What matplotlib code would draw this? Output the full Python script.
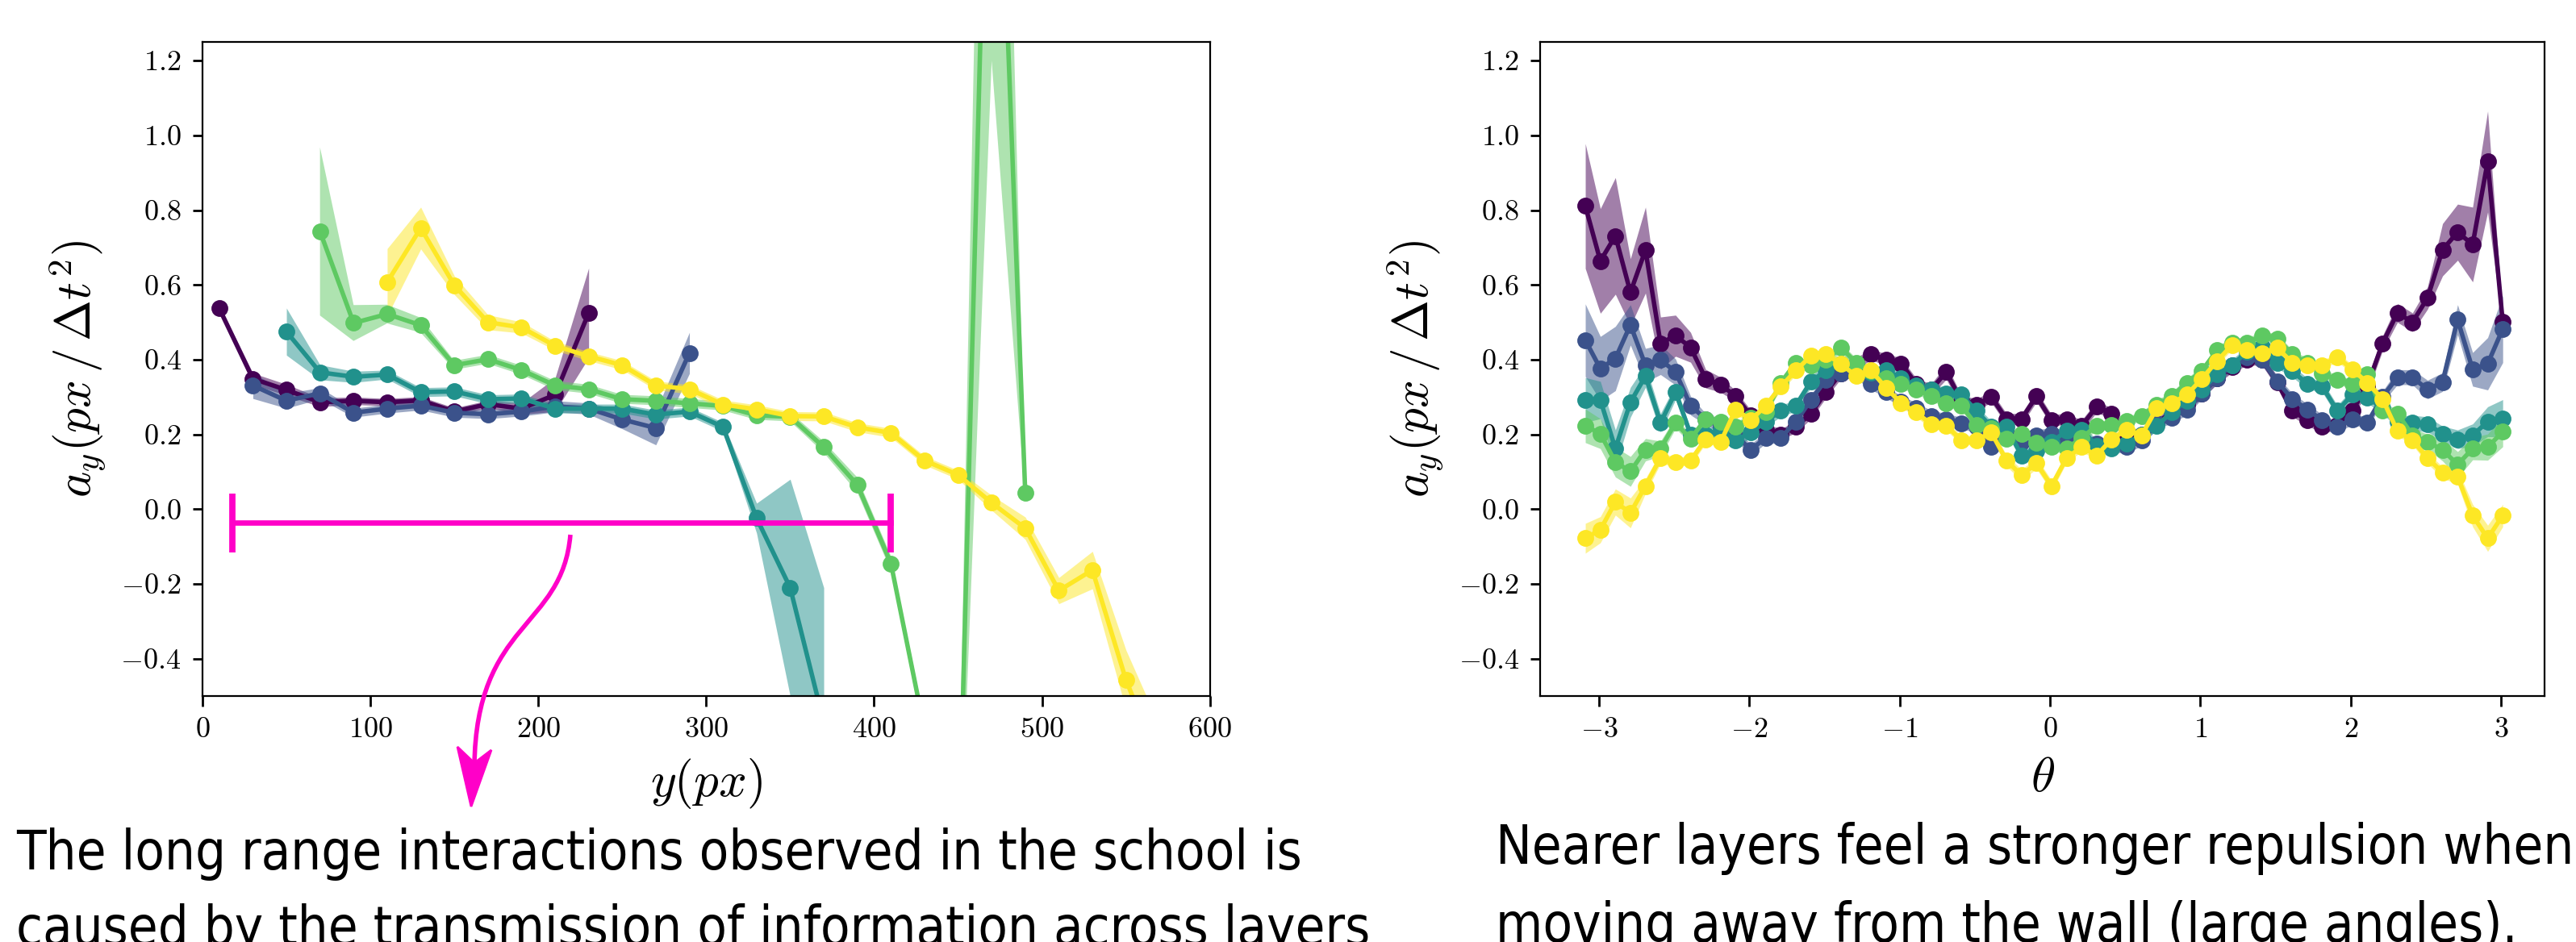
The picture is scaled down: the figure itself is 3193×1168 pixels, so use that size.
import numpy as np
import matplotlib
matplotlib.use("Agg")
import matplotlib.pyplot as plt
from matplotlib.path import Path
from matplotlib.patches import PathPatch, Polygon

plt.rcParams['mathtext.fontset'] = 'cm'
plt.rcParams['font.family'] = 'serif'
plt.rcParams['font.serif'] = ['cmr10']
plt.rcParams['axes.formatter.use_mathtext'] = True

# viridis, one colour per layer
colors = ['#440154', '#3b528b', '#21918c', '#5ec962', '#fde725']
MAGENTA = '#ff00c8'

# --- left panel: a_y vs y(px) ---
y_purple = [10, 30, 50, 70, 90, 110, 130, 150, 170, 190, 210, 230]
a_purple = [0.537, 0.349, 0.319, 0.286, 0.290, 0.286, 0.291, 0.261, 0.281, 0.269, 0.306, 0.525]
e_purple = [0.01, 0.015, 0.015, 0.012, 0.01, 0.01, 0.01, 0.01, 0.01, 0.015, 0.045, 0.12]

y_blue = [30, 50, 70, 90, 110, 130, 150, 170, 190, 210, 230, 250, 270, 290]
a_blue = [0.331, 0.290, 0.310, 0.258, 0.269, 0.277, 0.258, 0.254, 0.261, 0.275, 0.269, 0.240, 0.217, 0.418]
e_blue = [0.035, 0.02, 0.015, 0.012, 0.012, 0.012, 0.012, 0.012, 0.012, 0.015, 0.015, 0.025, 0.045, 0.055]

y_teal = [50, 70, 90, 110, 130, 150, 170, 190, 210, 230, 250, 270, 290, 310, 330, 350, 370]
a_teal = [0.475, 0.366, 0.354, 0.360, 0.313, 0.315, 0.294, 0.296, 0.269, 0.269, 0.269, 0.253, 0.261,
          0.220, -0.024, -0.210, -0.570]
e_teal = [0.063, 0.02, 0.015, 0.012, 0.012, 0.012, 0.012, 0.012, 0.012, 0.012, 0.012, 0.012, 0.012,
          0.012, 0.04, 0.29, 0.36]

y_green = [70, 90, 110, 130, 150, 170, 190, 210, 230, 250, 270, 290, 310, 330, 350, 370, 390,
           410, 430, 450, 470, 490]
a_green = [0.743, 0.498, 0.522, 0.492, 0.385, 0.401, 0.372, 0.331, 0.321, 0.294, 0.290, 0.283,
           0.276, 0.251, 0.247, 0.166, 0.065, -0.145, -0.59, -1.0, 2.4, 0.043]
e_green = [0.225, 0.048, 0.025, 0.02, 0.012, 0.012, 0.012, 0.012, 0.012, 0.012, 0.012, 0.012,
           0.012, 0.012, 0.012, 0.015, 0.02, 0.02, 0.025, 0.1, 1.2, 0.02]

y_yellow = [110, 130, 150, 170, 190, 210, 230, 250, 270, 290, 310, 330, 350, 370, 390, 410, 430,
            450, 470, 490, 510, 530, 550, 570]
a_yellow = [0.607, 0.752, 0.599, 0.500, 0.486, 0.437, 0.409, 0.385, 0.331, 0.321, 0.280, 0.267,
            0.249, 0.248, 0.219, 0.204, 0.130, 0.092, 0.017, -0.051, -0.218, -0.163, -0.457, -0.68]
e_yellow = [0.09, 0.056, 0.025, 0.02, 0.015, 0.012, 0.012, 0.012, 0.012, 0.012, 0.012, 0.012,
            0.012, 0.012, 0.012, 0.012, 0.012, 0.012, 0.02, 0.03, 0.035, 0.05, 0.08, 0.1]

# --- right panel: a_y vs theta ---
theta = [-3.09, -2.99, -2.89, -2.79, -2.69, -2.59, -2.49, -2.39, -2.29, -2.19, -2.09, -1.99,
         -1.89, -1.79, -1.69, -1.59, -1.49, -1.39, -1.29, -1.19, -1.09, -0.99, -0.89, -0.79,
         -0.69, -0.59, -0.49, -0.39, -0.29, -0.19, -0.09, 0.01, 0.11, 0.21, 0.31, 0.41,
         0.51, 0.61, 0.71, 0.81, 0.91, 1.01, 1.11, 1.21, 1.31, 1.41, 1.51, 1.61,
         1.71, 1.81, 1.91, 2.01, 2.11, 2.21, 2.31, 2.41, 2.51, 2.61, 2.71, 2.81,
         2.91, 3.01]

t_purple = [0.811, 0.664, 0.731, 0.580, 0.693, 0.444, 0.464, 0.433, 0.349, 0.333, 0.302, 0.250,
            0.213, 0.200, 0.220, 0.256, 0.313, 0.364, 0.390, 0.414, 0.400, 0.390, 0.335, 0.320,
            0.367, 0.290, 0.280, 0.300, 0.241, 0.241, 0.302, 0.238, 0.241, 0.223, 0.274, 0.256,
            0.200, 0.200, 0.230, 0.260, 0.280, 0.310, 0.350, 0.380, 0.400, 0.400, 0.340, 0.263,
            0.238, 0.220, 0.225, 0.263, 0.330, 0.443, 0.525, 0.500, 0.565, 0.694, 0.741, 0.708,
            0.930, 0.501]
s_purple = [0.167, 0.14, 0.156, 0.09, 0.115, 0.07, 0.055, 0.04, 0.025, 0.02, 0.015, 0.015,
            0.015, 0.015, 0.015, 0.015, 0.015, 0.015, 0.015, 0.015, 0.015, 0.015, 0.015, 0.015,
            0.02, 0.015, 0.015, 0.015, 0.015, 0.015, 0.015, 0.015, 0.015, 0.015, 0.015, 0.015,
            0.015, 0.015, 0.015, 0.015, 0.015, 0.015, 0.015, 0.015, 0.015, 0.015, 0.015, 0.015,
            0.015, 0.015, 0.015, 0.015, 0.02, 0.02, 0.025, 0.025, 0.03, 0.07, 0.075, 0.10,
            0.135, 0.015]

t_blue = [0.452, 0.376, 0.403, 0.493, 0.385, 0.400, 0.367, 0.277, 0.241, 0.220, 0.198, 0.159,
          0.191, 0.191, 0.234, 0.292, 0.346, 0.364, 0.364, 0.335, 0.313, 0.288, 0.270, 0.249,
          0.241, 0.230, 0.220, 0.166, 0.205, 0.180, 0.198, 0.202, 0.184, 0.170, 0.175, 0.166,
          0.166, 0.184, 0.230, 0.245, 0.267, 0.310, 0.350, 0.385, 0.407, 0.400, 0.342, 0.295,
          0.267, 0.238, 0.220, 0.241, 0.231, 0.300, 0.353, 0.353, 0.320, 0.340, 0.507, 0.374,
          0.389, 0.482]
s_blue = [0.097, 0.086, 0.086, 0.054, 0.045, 0.04, 0.035, 0.025, 0.015, 0.015, 0.015, 0.015,
          0.015, 0.015, 0.015, 0.015, 0.015, 0.015, 0.015, 0.015, 0.015, 0.015, 0.015, 0.015,
          0.015, 0.015, 0.015, 0.015, 0.015, 0.015, 0.015, 0.015, 0.015, 0.015, 0.015, 0.015,
          0.015, 0.015, 0.015, 0.015, 0.015, 0.015, 0.015, 0.015, 0.015, 0.015, 0.015, 0.015,
          0.015, 0.015, 0.015, 0.015, 0.015, 0.015, 0.02, 0.02, 0.025, 0.025, 0.04, 0.045,
          0.07, 0.09]

t_teal = [0.292, 0.292, 0.162, 0.286, 0.356, 0.231, 0.313, 0.200, 0.200, 0.210, 0.184, 0.205,
          0.234, 0.263, 0.277, 0.341, 0.371, 0.389, 0.375, 0.365, 0.371, 0.350, 0.330, 0.320,
          0.310, 0.307, 0.263, 0.220, 0.220, 0.144, 0.155, 0.180, 0.209, 0.213, 0.170, 0.162,
          0.175, 0.200, 0.223, 0.260, 0.290, 0.320, 0.360, 0.385, 0.421, 0.435, 0.392, 0.369,
          0.336, 0.328, 0.263, 0.306, 0.299, 0.270, 0.234, 0.231, 0.227, 0.202, 0.187, 0.198,
          0.234, 0.243]
s_teal = [0.06, 0.05, 0.05, 0.04, 0.03, 0.025, 0.02, 0.015, 0.015, 0.015, 0.015, 0.015,
          0.015, 0.015, 0.015, 0.015, 0.015, 0.015, 0.015, 0.015, 0.015, 0.015, 0.015, 0.015,
          0.015, 0.015, 0.015, 0.015, 0.015, 0.015, 0.015, 0.015, 0.015, 0.015, 0.015, 0.015,
          0.015, 0.015, 0.015, 0.015, 0.015, 0.015, 0.015, 0.015, 0.015, 0.015, 0.015, 0.015,
          0.015, 0.015, 0.015, 0.015, 0.015, 0.015, 0.015, 0.02, 0.02, 0.02, 0.025, 0.03,
          0.04, 0.05]

t_green = [0.223, 0.202, 0.126, 0.101, 0.159, 0.162, 0.231, 0.188, 0.241, 0.234, 0.220, 0.245,
           0.260, 0.338, 0.392, 0.385, 0.400, 0.432, 0.392, 0.370, 0.350, 0.335, 0.320, 0.302,
           0.284, 0.277, 0.225, 0.216, 0.188, 0.202, 0.177, 0.166, 0.162, 0.191, 0.223, 0.225,
           0.235, 0.249, 0.280, 0.302, 0.338, 0.370, 0.425, 0.446, 0.446, 0.464, 0.457, 0.414,
           0.392, 0.364, 0.346, 0.335, 0.360, 0.263, 0.256, 0.198, 0.180, 0.159, 0.119, 0.162,
           0.166, 0.207]
s_green = [0.045, 0.04, 0.04, 0.04, 0.03, 0.02, 0.015, 0.012, 0.012, 0.012, 0.012, 0.012,
           0.012, 0.012, 0.012, 0.012, 0.012, 0.012, 0.012, 0.012, 0.012, 0.012, 0.012, 0.012,
           0.012, 0.012, 0.012, 0.012, 0.012, 0.012, 0.012, 0.012, 0.012, 0.012, 0.012, 0.012,
           0.012, 0.012, 0.012, 0.012, 0.012, 0.012, 0.012, 0.012, 0.012, 0.012, 0.012, 0.012,
           0.012, 0.012, 0.012, 0.012, 0.012, 0.015, 0.015, 0.02, 0.02, 0.03, 0.035, 0.03,
           0.035, 0.04]

t_yellow = [-0.078, -0.055, 0.019, -0.010, 0.062, 0.137, 0.126, 0.130, 0.187, 0.180, 0.267, 0.238,
            0.277, 0.328, 0.371, 0.410, 0.414, 0.389, 0.356, 0.371, 0.324, 0.284, 0.259, 0.227,
            0.223, 0.185, 0.185, 0.205, 0.130, 0.091, 0.123, 0.062, 0.137, 0.166, 0.144, 0.187,
            0.213, 0.198, 0.270, 0.284, 0.306, 0.349, 0.396, 0.439, 0.425, 0.417, 0.432, 0.392,
            0.385, 0.385, 0.407, 0.374, 0.338, 0.295, 0.209, 0.184, 0.137, 0.098, 0.087, -0.017,
            -0.078, -0.017]
s_yellow = [0.04, 0.035, 0.035, 0.04, 0.02, 0.015, 0.012, 0.012, 0.012, 0.012, 0.012, 0.012,
            0.012, 0.012, 0.012, 0.012, 0.012, 0.012, 0.012, 0.012, 0.012, 0.012, 0.012, 0.012,
            0.012, 0.012, 0.012, 0.012, 0.015, 0.015, 0.015, 0.015, 0.012, 0.012, 0.012, 0.012,
            0.012, 0.012, 0.012, 0.012, 0.012, 0.012, 0.012, 0.012, 0.012, 0.012, 0.012, 0.012,
            0.012, 0.012, 0.012, 0.012, 0.012, 0.012, 0.012, 0.012, 0.015, 0.015, 0.02, 0.03,
            0.035, 0.03]

left_series = [(y_purple, a_purple, e_purple), (y_blue, a_blue, e_blue), (y_teal, a_teal, e_teal),
               (y_green, a_green, e_green), (y_yellow, a_yellow, e_yellow)]
right_series = [(t_purple, s_purple), (t_blue, s_blue), (t_teal, s_teal),
                (t_green, s_green), (t_yellow, s_yellow)]

captions_left = ["The long range interactions observed in the school is",
                 "caused by the transmission of information across layers"]
captions_right = ["Nearer layers feel a stronger repulsion when",
                  "moving away from the wall (large angles)."]

# magenta range marker (data coords of left panel)
BAR_X0, BAR_X1, BAR_Y = 18, 410, -0.037
CAP_LO, CAP_HI = -0.115, 0.042

W, H, DPI = 3193, 1168, 200
fig = plt.figure(figsize=(W / DPI, H / DPI), dpi=DPI)
ax1 = fig.add_axes([0.0786, 0.2611, 0.3911, 0.6944])
ax2 = fig.add_axes([0.5979, 0.2611, 0.3900, 0.6944])


def band_line(ax, xs, ys, es, c):
    xs, ys, es = np.asarray(xs), np.asarray(ys), np.asarray(es)
    ax.fill_between(xs, ys - es, ys + es, color=c, alpha=0.5, lw=0)
    ax.plot(xs, ys, '-o', color=c, lw=2, ms=6.5)


for (xs, ys, es), c in zip(left_series, colors):
    band_line(ax1, xs, ys, es, c)
for (ys, es), c in zip(right_series, colors):
    band_line(ax2, theta, ys, es, c)

ax1.set_xlim(0, 600)
ax2.set_xlim(-3.39, 3.29)
ax1.set_xticks([0, 100, 200, 300, 400, 500, 600])
ax2.set_xticks([-3, -2, -1, 0, 1, 2, 3])
for ax in (ax1, ax2):
    ax.set_ylim(-0.5, 1.25)
    ax.set_yticks([-0.4, -0.2, 0.0, 0.2, 0.4, 0.6, 0.8, 1.0, 1.2])
    ax.tick_params(labelsize=13, length=4.5, width=1, pad=5)
    ax.set_ylabel(r'$a_y(px\,/\,\Delta t^2)$', fontsize=22, labelpad=6)
ax1.set_xlabel(r'$y(px)$', fontsize=22, labelpad=6)
ax2.set_xlabel(r'$\theta$', fontsize=22, labelpad=6)

# range bracket
ax1.plot([BAR_X0, BAR_X1], [BAR_Y, BAR_Y], color=MAGENTA, lw=2.4)
ax1.vlines([BAR_X0, BAR_X1], CAP_LO, CAP_HI, color=MAGENTA, lw=2.8)


def fig_pt(x, y):
    # figure pixels (origin top-left) -> figure fraction
    return (x / W, 1 - y / H)


# curvy arrow shaft + concave head
shaft_px = [(707, 663), (697, 780), (590, 770), (588, 950)]
shaft = Path([fig_pt(*p) for p in shaft_px],
             [Path.MOVETO, Path.CURVE4, Path.CURVE4, Path.CURVE4])
fig.patches.append(PathPatch(shaft, transform=fig.transFigure, fill=False,
                             edgecolor=MAGENTA, lw=2))
head_px = [(584, 1000), (567, 926), (588, 946), (609, 930)]
fig.patches.append(Polygon([fig_pt(*p) for p in head_px], closed=True,
                           transform=fig.transFigure, facecolor=MAGENTA,
                           edgecolor=MAGENTA, lw=1))

hand = dict(family='DejaVu Sans', fontstretch='condensed', fontsize=24, va='baseline')
fig.text(*fig_pt(20, 1078), captions_left[0], **hand)
fig.text(*fig_pt(20, 1172), captions_left[1], **hand)
fig.text(*fig_pt(1854, 1071), captions_right[0], **hand)
fig.text(*fig_pt(1854, 1168), captions_right[1], **hand)

fig.savefig('out.png', dpi=DPI)
